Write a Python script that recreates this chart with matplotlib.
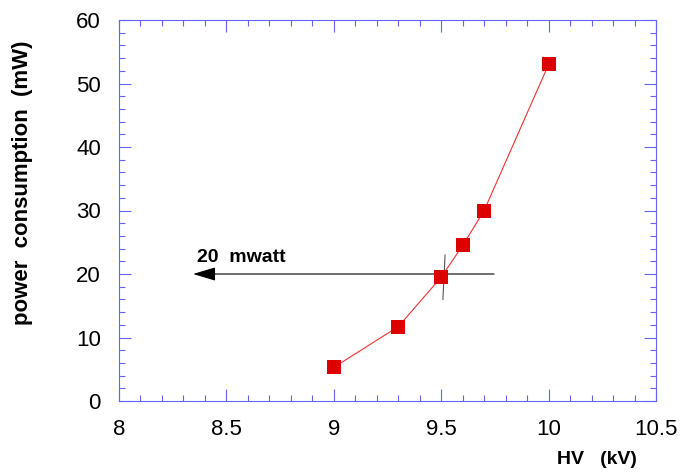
import matplotlib
matplotlib.use("Agg")
import matplotlib.pyplot as plt
from matplotlib.ticker import MultipleLocator

hv = [9.0, 9.3, 9.5, 9.6, 9.7, 10.0]
power = [5.3, 11.7, 19.5, 24.5, 30.0, 53.0]
xticks = [8, 8.5, 9, 9.5, 10, 10.5]
xticklabels = ["8", "8.5", "9", "9.5", "10", "10.5"]
yticks = [0, 10, 20, 30, 40, 50, 60]

plt.rcParams['font.family'] = ['Liberation Sans', 'DejaVu Sans']

fig = plt.figure(figsize=(6.86, 4.72), dpi=100)
ax = fig.add_axes([119/686, 1-401/472, (656-119)/686, (401-20)/472])

blue = '#6464ee'
ax.plot(hv, power, color='#ee3333', lw=0.8, zorder=3)
ax.plot(hv, power, 's', color='#dd0000', ms=9.4, zorder=4, markeredgewidth=0)

# annotation lines
ax.plot([9.518, 9.508], [23.0, 16.0], color='#555555', lw=0.8, zorder=2)
ax.annotate('', xy=(8.345, 20), xytext=(9.746, 20),
            arrowprops=dict(arrowstyle='-|>,head_length=1.0,head_width=0.3',
                            color='black', lw=0.8,
                            mutation_scale=14, shrinkA=0, shrinkB=0,
                            fc='black'),
            zorder=2)
ax.text(8.364, 21.9, '20  mwatt', fontsize=14, fontweight='bold',
        va='baseline', ha='left')

ax.set_xlim(8, 10.5)
ax.set_ylim(0, 60)
ax.set_xticks(xticks)
ax.set_xticklabels(xticklabels)
ax.set_yticks(yticks)
ax.xaxis.set_minor_locator(MultipleLocator(0.1))
ax.yaxis.set_minor_locator(MultipleLocator(2))
ax.tick_params(which='both', direction='in', top=True, right=True, color=blue,
               labelsize=16, width=0.8)
ax.tick_params(which='major', length=8.6, pad=13)
ax.tick_params(which='minor', length=4.3)
for s in ax.spines.values():
    s.set_color(blue)
    s.set_linewidth(0.8)

fig.text(23/686, 1-183/472, 'power  consumption  (mW)', fontsize=16,
         fontweight='bold', rotation=90, ha='center', va='center')
fig.text(637/686, 1-460/472, 'HV   (kV)', fontsize=14, fontweight='bold',
         ha='right', va='center')

fig.savefig('out.png', dpi=100)
